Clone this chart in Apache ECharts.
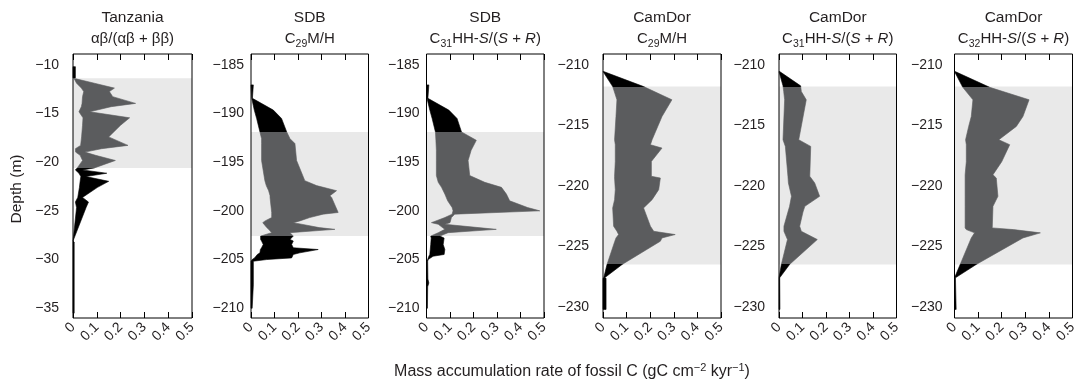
<!DOCTYPE html>
<html><head><meta charset="utf-8">
<script src="https://cdn.jsdelivr.net/npm/echarts@6/dist/echarts.min.js"></script>
<style>html,body{margin:0;padding:0;background:#fff}#c{width:1081px;height:385px}</style>
</head><body><div id="c"></div>
<script>
// ---------- data ----------
const xTicks = [0, 0.1, 0.2, 0.3, 0.4, 0.5];
const tzTicks = [-35, -30, -25, -20, -15, -10];
const sdbTicks = [-210, -205, -200, -195, -190, -185];
const camTicks = [-230, -225, -220, -215, -210];

const tzBand = [-11.38, -20.59];
const sdbBand = [-191.9, -202.59];
const camBand = [-211.79, -226.48];

const tzDepth = [-10.2,-11.35,-11.4,-11.9,-12.4,-12.76,-13.28,-13.97,-14.31,-14.83,-15.45,-16.21,-17.41,-18.28,-18.62,-18.97,-19.3,-19.83,-20.59,-20.8,-21.14,-21.48,-21.97,-22.59,-23.62,-24.1,-24.66,-28.1,-28.2,-35.5];
const tzLow   = [0,0,0.004,0.015,0.035,0.045,0.04,0.038,0.035,0.025,0.042,0.04,0.036,0.032,0.01,0.011,0.03,0.04,0.018,0.01,0.025,0.033,0.03,0.027,0.02,0.01,0.015,0,0,0];
const tzHigh  = [0.01,0.01,0.004,0.09,0.174,0.153,0.167,0.263,0.16,0.07,0.238,0.2,0.15,0.231,0.12,0.05,0.095,0.178,0.09,0.04,0.142,0.054,0.15,0.103,0.04,0.065,0.055,0,0.005,0.005];

const sdb29Depth = [-187.07,-188.45,-189.66,-190.52,-191.9,-192.59,-193.1,-194.83,-196.9,-197.41,-197.93,-198.45,-198.62,-200.17,-200.34,-200.69,-201.03,-201.21,-201.72,-201.9,-202.24,-202.59,-202.93,-203.1,-203.45,-203.79,-203.97,-204.31,-204.48,-204.83,-205.0,-205.17,-207.6,-210.0];
const sdb29Low   = [0,0.003,0.014,0.024,0.038,0.045,0.045,0.045,0.059,0.065,0.075,0.081,0.081,0.088,0.088,0.088,0.06,0.05,0.067,0.075,0.088,0.041,0.041,0.045,0.052,0.045,0.04,0.038,0.027,0.015,0.005,0,0,0];
const sdb29High  = [0.01,0.006,0.095,0.13,0.152,0.166,0.187,0.194,0.229,0.279,0.364,0.336,0.343,0.371,0.307,0.25,0.208,0.18,0.29,0.357,0.166,0.18,0.166,0.18,0.173,0.18,0.286,0.208,0.18,0.173,0.067,0.01,0.01,0.005];

const sdb31Depth = [-187.07,-188.45,-189.66,-190.52,-191.9,-192.76,-193.79,-194.83,-196.38,-197.07,-197.59,-198.28,-198.97,-199.66,-200.0,-200.34,-200.69,-201.21,-201.38,-201.9,-202.24,-202.59,-202.8,-203.45,-203.97,-204.48,-204.66,-205.0,-205.2,-207.0,-207.4,-207.8,-210.0];
const sdb31Low   = [0,0.002,0.014,0.024,0.038,0.04,0.042,0.042,0.042,0.05,0.064,0.078,0.09,0.109,0.113,0.109,0.078,0.021,0.05,0.078,0.05,0.018,0.02,0.018,0.016,0.014,0.01,0.005,0,0,0,0,0];
const sdb31High  = [0.01,0.006,0.095,0.13,0.149,0.212,0.19,0.177,0.184,0.248,0.319,0.34,0.354,0.43,0.482,0.12,0.106,0.1,0.078,0.297,0.092,0.057,0.075,0.071,0.078,0.075,0.028,0.007,0.005,0.006,0.01,0.005,0.004];

const cam29Depth = [-210.55,-211.79,-212.88,-214.26,-216.18,-216.59,-216.87,-217.97,-219.2,-219.34,-220.3,-221.13,-221.81,-223.32,-223.74,-224.01,-224.29,-224.56,-226.48,-227.58,-227.62,-230.19];
const cam29Low   = [0,0.041,0.059,0.055,0.049,0.052,0.052,0.052,0.049,0.049,0.052,0.049,0.041,0.045,0.059,0.066,0.055,0.05,0.017,0.003,0,0];
const cam29High  = [0.003,0.172,0.292,0.25,0.208,0.201,0.25,0.205,0.205,0.243,0.236,0.208,0.172,0.201,0.215,0.306,0.25,0.243,0.081,0.007,0.013,0.013];

const cam31Depth = [-210.55,-211.73,-212.2,-212.88,-216.18,-216.73,-219.2,-219.75,-220.85,-221.68,-222.15,-223.32,-223.74,-224.42,-226.48,-227.58,-230.19];
const cam31Low   = [0,0.017,0.02,0.024,0.017,0.027,0.038,0.04,0.053,0.045,0.038,0.021,0.021,0.036,0.01,0,0];
const cam31High  = [0.003,0.092,0.095,0.116,0.084,0.135,0.131,0.152,0.173,0.11,0.102,0.088,0.095,0.163,0.045,0.003,0.004];

const cam32Depth = [-210.55,-211.85,-212.88,-214.26,-215.08,-216.18,-216.59,-218.0,-219.07,-219.34,-220.85,-221.68,-223.46,-223.6,-223.87,-224.29,-226.48,-227.58,-230.19];
const cam32Low   = [0,0.035,0.078,0.071,0.06,0.047,0.05,0.05,0.045,0.045,0.045,0.045,0.045,0.05,0.085,0.071,0.024,0,0];
const cam32High  = [0.003,0.149,0.316,0.29,0.262,0.188,0.234,0.2,0.163,0.177,0.184,0.163,0.16,0.25,0.364,0.29,0.092,0.004,0.007];

// ---------- layout ----------
const FONT = '"Liberation Sans", Arial, Helvetica, sans-serif';
const TXT = '#231f20';
const panels = [
  {left:73,    width:119,   yMin:-36.0,  yMax:-8.9,   ticks:tzTicks,  band:tzBand,  d:tzDepth,    lo:tzLow,    hi:tzHigh,    margin:14, t1:'Tanzania', t2:'{n|αβ/(αβ + ββ)}'},
  {left:251,   width:117.5, yMin:-211.0, yMax:-183.9, ticks:sdbTicks, band:sdbBand, d:sdb29Depth, lo:sdb29Low, hi:sdb29High, margin:7,  t1:'SDB',      t2:'{n|C}{s|29}{n|M/H}'},
  {left:426.5, width:117.5, yMin:-211.0, yMax:-183.9, ticks:sdbTicks, band:sdbBand, d:sdb31Depth, lo:sdb31Low, hi:sdb31High, margin:7,  t1:'SDB',      t2:'{n|C}{s|31}{n|HH-}{i|S}{n|/(}{i|S}{n| + }{i|R}{n|)}'},
  {left:603,   width:118,   yMin:-230.9, yMax:-209.1, ticks:camTicks, band:camBand, d:cam29Depth, lo:cam29Low, hi:cam29High, margin:14, t1:'CamDor',   t2:'{n|C}{s|29}{n|M/H}'},
  {left:779,   width:117.5, yMin:-230.9, yMax:-209.1, ticks:camTicks, band:camBand, d:cam31Depth, lo:cam31Low, hi:cam31High, margin:14, t1:'CamDor',   t2:'{n|C}{s|31}{n|HH-}{i|S}{n|/(}{i|S}{n| + }{i|R}{n|)}'},
  {left:954.5, width:118,   yMin:-230.9, yMax:-209.1, ticks:camTicks, band:camBand, d:cam32Depth, lo:cam32Low, hi:cam32High, margin:12, t1:'CamDor',   t2:'{n|C}{s|32}{n|HH-}{i|S}{n|/(}{i|S}{n| + }{i|R}{n|)}'}
];
const TOP = 54, HEIGHT = 264;
const BLACK = '#000000', GRAY = '#5b5c5e', BANDC = '#e9e9e9';

const richTitle = {
  n: {fontSize: 15, fontFamily: FONT, fill: TXT, color: TXT},
  i: {fontSize: 15, fontFamily: FONT, fill: TXT, color: TXT, fontStyle: 'italic'},
  s: {fontSize: 10.5, fontFamily: FONT, fill: TXT, color: TXT, padding: [10, 0, 0, 0]},
  N: {fontSize: 16, fontFamily: FONT, fill: TXT, color: TXT},
  p: {fontSize: 11, fontFamily: FONT, fill: TXT, color: TXT, padding: [0, 0, 9, 0]}
};

function minus(v) { return String(v).replace('-', '\u2212'); }

const grid = [], xAxis = [], yAxis = [], series = [], graphic = [];
panels.forEach((p, k) => {
  grid.push({left: p.left, top: TOP, width: p.width, height: HEIGHT, show: true,
    borderColor: '#000', borderWidth: 1, backgroundColor: 'transparent', z: 10});
  xAxis.push({type: 'value', gridIndex: k, min: xTicks[0], max: xTicks[xTicks.length - 1], interval: 0.1, position: 'bottom',
    axisLine: {show: false}, splitLine: {show: false},
    axisTick: {show: true, inside: true, length: 6, lineStyle: {color: '#000', width: 1}},
    axisLabel: {rotate: 45, margin: 7, fontSize: 14, fontFamily: FONT, color: TXT,
      formatter: v => String(+v.toFixed(1))}});
  xAxis.push({type: 'value', gridIndex: k, min: xTicks[0], max: xTicks[xTicks.length - 1], interval: 0.1, position: 'top',
    axisLine: {show: false}, splitLine: {show: false}, axisLabel: {show: false},
    axisTick: {show: true, inside: true, length: 6, lineStyle: {color: '#000', width: 1}}});
  yAxis.push({type: 'value', gridIndex: k, min: p.yMin, max: p.yMax,
    axisLine: {show: false}, splitLine: {show: false}, axisTick: {show: false},
    axisLabel: {customValues: p.ticks, margin: p.margin, fontSize: 14, fontFamily: FONT, color: TXT,
      formatter: v => minus(v)}});

  // shaded interval
  series.push({type: 'custom', xAxisIndex: 2 * k, yAxisIndex: k, z: 2, silent: true,
    data: [[0, 0.5, p.band[0], p.band[1]]],
    renderItem: (params, api) => {
      const a = api.coord([api.value(0), api.value(2)]);
      const b = api.coord([api.value(1), api.value(3)]);
      return {type: 'rect', shape: {x: a[0], y: a[1], width: b[0] - a[0], height: b[1] - a[1]},
        style: {fill: BANDC}};
    }});

  // profile polygon (low edge down, high edge back up)
  const rows = p.d.map((d, i) => [p.lo[i], p.hi[i], d]);
  series.push({type: 'custom', xAxisIndex: 2 * k, yAxisIndex: k, z: 3, silent: true,
    encode: {x: [0, 1], y: 2}, data: rows,
    renderItem: (params, api) => {
      if (params.dataIndexInside !== 0) return null;
      const n = params.dataInsideLength;
      const left = [], right = [];
      for (let i = 0; i < n; i++) {
        const d = api.value(2, i);
        left.push(api.coord([api.value(0, i), d]));
        right.push(api.coord([api.value(1, i), d]));
      }
      const pts = left.concat(right.reverse());
      const cs = params.coordSys;
      const yT = api.coord([0, p.band[0]])[1], yB = api.coord([0, p.band[1]])[1];
      const f1 = Math.max(0, Math.min(1, (yT - cs.y) / cs.height));
      const f2 = Math.max(0, Math.min(1, (yB - cs.y) / cs.height));
      const fill = new echarts.graphic.LinearGradient(0, cs.y, 0, cs.y + cs.height, [
        {offset: 0, color: BLACK}, {offset: f1, color: BLACK},
        {offset: f1, color: GRAY}, {offset: f2, color: GRAY},
        {offset: f2, color: BLACK}, {offset: 1, color: BLACK}], true);
      return {type: 'polygon', shape: {points: pts}, style: {fill: fill, stroke: fill, lineWidth: 0.6}};
    }});

  const cx = p.left + p.width / 2;
  graphic.push({type: 'text', x: cx, y: 18, style: {text: p.t1, fontSize: 15.5, fontFamily: FONT,
    fill: TXT, align: 'center', verticalAlign: 'middle'}});
  graphic.push({type: 'text', x: cx, y: 39, style: {text: p.t2, rich: richTitle, fontSize: 15,
    fontFamily: FONT, fill: TXT, align: 'center', verticalAlign: 'middle'}});
});

graphic.push({type: 'text', x: 17, y: 189, rotation: Math.PI / 2,
  style: {text: 'Depth (m)', fontSize: 15.5, fontFamily: FONT, fill: TXT, align: 'center', verticalAlign: 'middle'}});
graphic.push({type: 'text', x: 572, y: 372,
  style: {text: '{N|Mass accumulation rate of fossil C (gC cm}{p|\u22122}{N| kyr}{p|\u22121}{N|)}',
    rich: richTitle, fontSize: 16, fontFamily: FONT, fill: TXT, align: 'center', verticalAlign: 'middle'}});

const chart = echarts.init(document.getElementById('c'), null, {renderer: 'canvas'});
chart.setOption({animation: false, backgroundColor: '#fff', grid, xAxis, yAxis, series, graphic});
</script>
</body></html>
